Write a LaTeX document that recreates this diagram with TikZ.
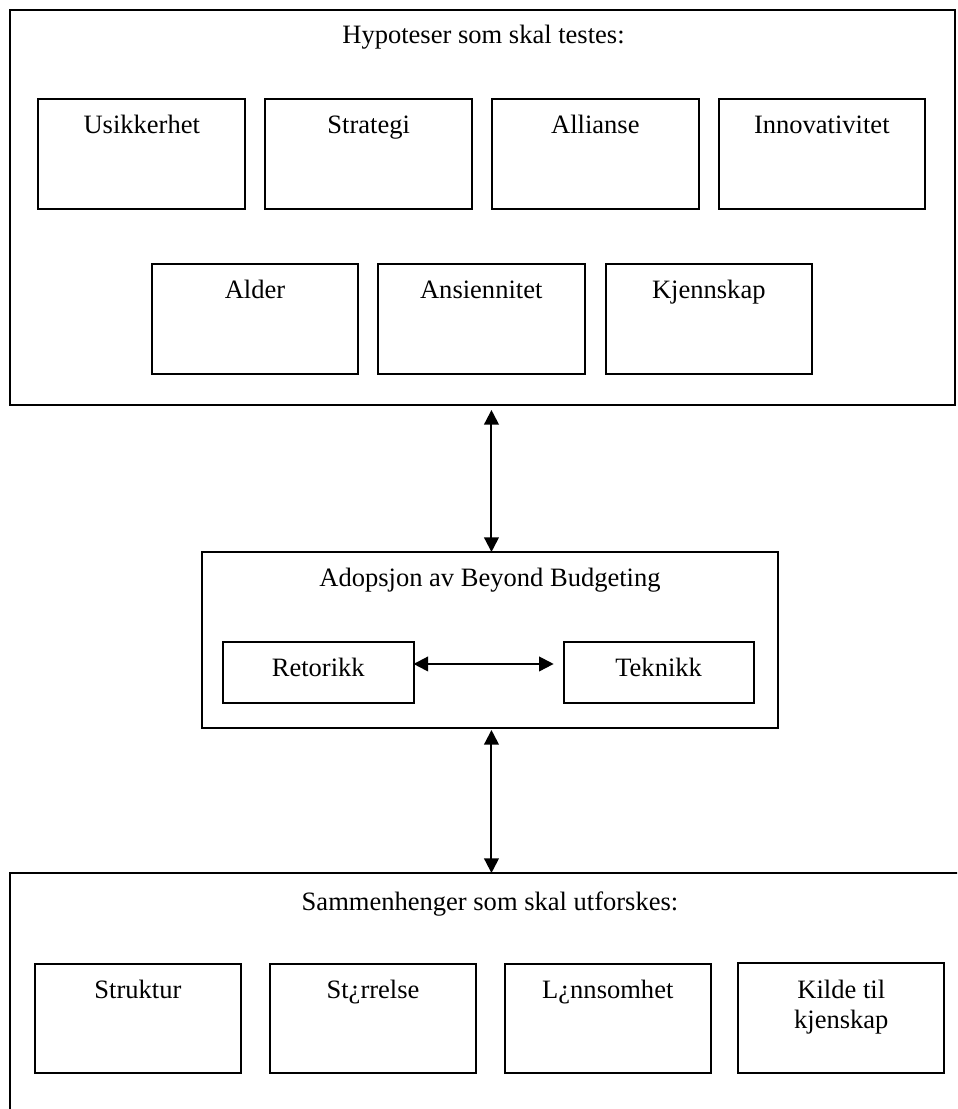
\documentclass[tikz,border=0pt]{standalone}
\usepackage{fontspec}
\setmainfont{Liberation Serif}
\usetikzlibrary{arrows.meta}
\begin{document}
\begin{tikzpicture}[x=0.75pt,y=-0.75pt,
  box/.style={draw=black, line width=1.5pt, inner sep=0pt, outer sep=0pt, fill=none},
  smallbox/.style={box, minimum width=154.9pt, minimum height=82.5pt},
  lbl/.style={inner sep=0pt, anchor=base, font=\fontsize{19.9}{22.5}\selectfont},
  conn/.style={{Triangle[length=11pt,width=11pt]}-{Triangle[length=11pt,width=11pt]}, line width=1.5pt}]
\useasboundingbox (0,0) rectangle (957,1109);
\fill[white] (0,0) rectangle (957,1109);
\clip (0,0) rectangle (957,1109);

% top frame
\node[box, minimum width=709.1pt, minimum height=296.6pt] (top) at (482.75,207.25) {};
\node[lbl] (toptitle) at (483.5,43.3) {Hypoteser som skal testes:};

% row 1
\node[smallbox] (usik) at (141.75,154) {};
\node[smallbox] (strat) at (368.75,154) {};
\node[smallbox] (alli) at (595.35,154) {};
\node[smallbox] (inno) at (821.8,154) {};
\node[lbl] (usikl) at (141.75,133.3) {Usikkerhet};
\node[lbl] (stratl) at (368.75,133.3) {Strategi};
\node[lbl] (allil) at (595.35,133.3) {Allianse};
\node[lbl] (innol) at (821.8,133.3) {Innovativitet};

% row 2
\node[smallbox] (alder) at (255,319) {};
\node[smallbox] (ansi) at (481.25,319) {};
\node[smallbox] (kjenn) at (708.8,319) {};
\node[lbl] (alderl) at (255,298.3) {Alder};
\node[lbl] (ansil) at (481.25,298.3) {Ansiennitet};
\node[lbl] (kjennl) at (708.8,298.3) {Kjennskap};

% middle frame
\node[box, minimum width=432pt, minimum height=132pt] (mid) at (490,640) {};
\node[lbl] (midtitle) at (490,586.7) {Adopsjon av Beyond Budgeting};
\node[box, minimum width=142.9pt, minimum height=45.75pt] (ret) at (318.25,672.5) {};
\node[box, minimum width=142.4pt, minimum height=45.75pt] (tek) at (658.6,672.5) {};
\node[lbl] (retl) at (318.25,676) {Retorikk};
\node[lbl] (tekl) at (658.6,676) {Teknikk};

% bottom frame (runs past the page edge)
\node[box, minimum width=742.5pt, minimum height=207.75pt] (bot) at (505,1011.5) {};
\node[lbl] (bottitle) at (490,910.5) {Sammenhenger som skal utforskes:};
\node[box, minimum width=154.7pt, minimum height=82pt] (strukt) at (137.9,1018.65) {};
\node[box, minimum width=154.7pt, minimum height=82pt] (storr) at (373,1018.65) {};
\node[box, minimum width=154.7pt, minimum height=82pt] (lonn) at (607.8,1018.65) {};
\node[box, minimum width=154.5pt, minimum height=82.5pt] (kilde) at (841.3,1018.3) {};
\node[lbl] (struktl) at (137.9,998) {Struktur};
\node[lbl] (storrl) at (373,998) {St¿rrelse};
\node[lbl] (lonnl) at (607.8,998) {L¿nnsomhet};
\node[lbl, anchor=north, align=center] (kildel) at (841.3,979.6) {Kilde til\\kjenskap};

% connectors
\draw[conn, shorten <=3.75pt] ([xshift=1.1pt]top.south -| mid.north) -- ([xshift=1.1pt]mid.north);
\draw[conn, shorten <=1.5pt] ([xshift=1.1pt]mid.south) -- ([xshift=1.1pt]mid.south |- bot.north);
\draw[conn, shorten >=7.5pt] ([yshift=6.4pt]ret.east) -- ([yshift=6.4pt]tek.west);
\end{tikzpicture}
\end{document}
